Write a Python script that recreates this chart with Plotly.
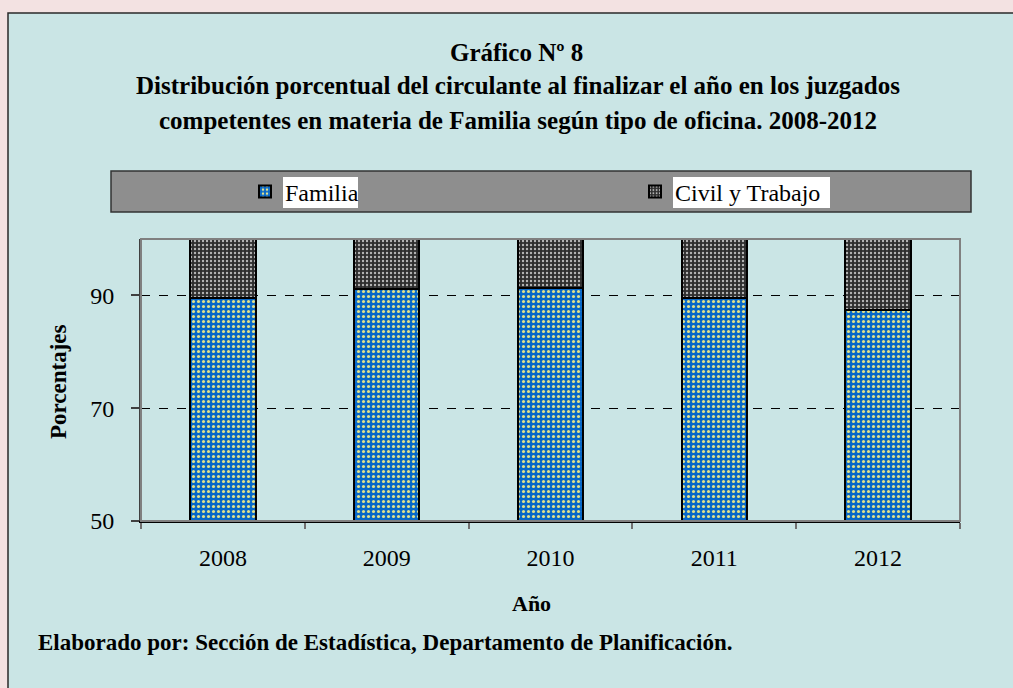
import plotly.graph_objects as go

years = ["2008", "2009", "2010", "2011", "2012"]
familia = [89.6, 91.1, 91.4, 89.5, 87.5]
civil_trabajo = [10.4, 8.9, 8.6, 10.5, 12.5]
series_names = ["Familia", "Civil y Trabajo"]
y_ticks = [50, 70, 90]

W, H = 1013, 688
L, R, T, B = 141, 960, 239, 521


def fx(px):
    return (px - L) / (R - L)


def fy(py):
    return (B - py) / (B - T)


SERIF = "Liberation Serif, Times New Roman, serif"

fig = go.Figure()
fig.add_trace(go.Bar(
    x=years, y=familia, name=series_names[0], legend="legend",
    marker=dict(color="#0868c8", line=dict(color="black", width=2),
                pattern=dict(shape=".", bgcolor="#0868c8", fgcolor="#e2e28c",
                             size=5, solidity=0.3, fillmode="replace")),
))
fig.add_trace(go.Bar(
    x=years, y=civil_trabajo, name=series_names[1], legend="legend2",
    marker=dict(color="#2e2e2e", line=dict(color="black", width=2),
                pattern=dict(shape=".", bgcolor="#2e2e2e", fgcolor="#b4b4b4",
                             size=4, solidity=0.28, fillmode="replace")),
))

shapes = [
    # outer panel
    dict(type="rect", xref="paper", yref="paper", layer="below",
         x0=fx(8), x1=fx(1030), y0=fy(13), y1=fy(720),
         fillcolor="#cae5e5", line=dict(color="#2a2a2a", width=1.5)),
    # legend box
    dict(type="rect", xref="paper", yref="paper", layer="below",
         x0=fx(111), x1=fx(971), y0=fy(171), y1=fy(212),
         fillcolor="#8e8e8e", line=dict(color="#333333", width=1.5)),
    # white text backgrounds in legend
    dict(type="rect", xref="paper", yref="paper", layer="below",
         x0=fx(283), x1=fx(358), y0=fy(177), y1=fy(208),
         fillcolor="white", line=dict(width=0)),
    dict(type="rect", xref="paper", yref="paper", layer="below",
         x0=fx(673), x1=fx(830), y0=fy(177), y1=fy(208),
         fillcolor="white", line=dict(width=0)),
    # plot area border
    dict(type="rect", xref="paper", yref="paper", layer="above",
         x0=0, x1=1, y0=0, y1=1, line=dict(color="#808080", width=2)),
]

title_lines = [
    ("<b>Gráfico Nº 8</b>", 516, 52),
    ("<b>Distribución porcentual del circulante al finalizar el año en los juzgados</b>", 518, 86),
    ("<b>competentes en materia de Familia según tipo de oficina. 2008-2012</b>", 518, 120),
]
annots = []
for text, x, y in title_lines:
    annots.append(dict(text=text, x=fx(x), y=fy(y), xref="paper", yref="paper",
                       showarrow=False, xanchor="center", yanchor="middle",
                       font=dict(family=SERIF, size=25, color="black")))
annots.append(dict(text="<b>Porcentajes</b>", x=fx(58), y=fy(382), xref="paper", yref="paper",
                   showarrow=False, textangle=-90, xanchor="center", yanchor="middle",
                   font=dict(family=SERIF, size=23, color="black")))
annots.append(dict(text="<b>Año</b>", x=fx(531), y=fy(603), xref="paper", yref="paper",
                   showarrow=False, xanchor="center", yanchor="middle",
                   font=dict(family=SERIF, size=22, color="black")))
annots.append(dict(text="<b>Elaborado por: Sección de Estadística, Departamento de Planificación.</b>",
                   x=fx(36), y=fy(642), xref="paper", yref="paper",
                   showarrow=False, xanchor="left", yanchor="middle",
                   font=dict(family=SERIF, size=23, color="black")))

legend_common = dict(orientation="h", xanchor="left", yanchor="middle",
                     bgcolor="rgba(0,0,0,0)", borderwidth=0,
                     font=dict(family=SERIF, size=24, color="black"))

fig.update_layout(
    width=W, height=H,
    margin=dict(l=L, r=W - R, t=T, b=H - B, pad=0),
    paper_bgcolor="#f3e2e2",
    plot_bgcolor="rgba(0,0,0,0)",
    barmode="stack",
    bargap=0.6,
    showlegend=True,
    legend=dict(x=fx(245), y=fy(192), **legend_common),
    legend2=dict(x=fx(635), y=fy(192), **legend_common),
    shapes=shapes,
    annotations=annots,
    xaxis=dict(type="category", showgrid=False, showline=True, linecolor="black", linewidth=1.5,
               ticks="outside", tickson="boundaries", ticklen=6, tickcolor="#707070", tickwidth=2,
               tickfont=dict(family=SERIF, size=24, color="black"), ticklabelstandoff=14,
               automargin=False, zeroline=False),
    yaxis=dict(range=[50, 100], tickvals=y_ticks, showgrid=True, gridcolor="black", griddash="dash",
               gridwidth=1, showline=True, linecolor="#404040", linewidth=2, ticks="outside",
               ticklen=8, tickcolor="#404040", tickwidth=1.5,
               tickfont=dict(family=SERIF, size=24, color="black"), ticklabelstandoff=12,
               automargin=False, zeroline=False),
)

fig.write_html("out.html", config={"displayModeBar": False},
               post_script="document.body.style.margin='0';")
